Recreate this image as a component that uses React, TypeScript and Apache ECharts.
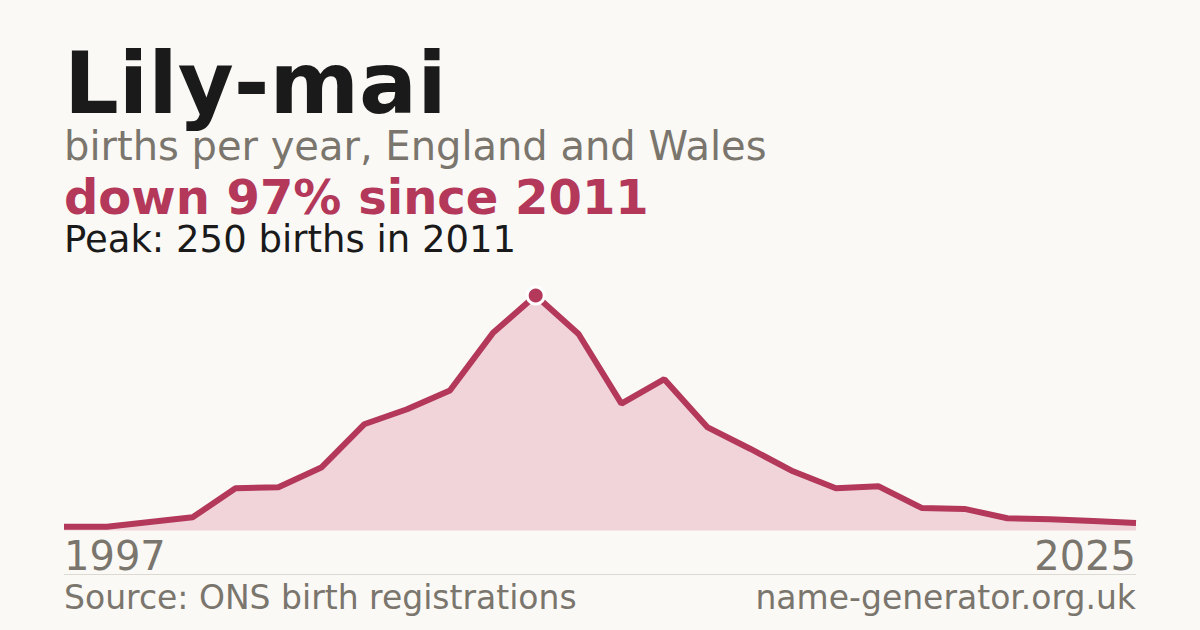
import React, { useEffect, useRef } from "react";
import * as echarts from "echarts";

// years with recorded births (gaps where counts were suppressed)
const years = [
  "1997", "2001", "2002", "2003", "2004", "2005", "2006", "2007", "2008",
  "2009", "2010", "2011", "2012", "2013", "2014", "2015", "2016", "2017",
  "2018", "2019", "2020", "2021", "2022", "2023", "2024", "2025",
];
const births = [
  4, 4, 9, 14, 45, 46, 67, 113, 129, 149, 210, 250, 209, 135, 161, 110, 87,
  63, 45, 47, 24, 23, 13, 12, 10, 8,
];
const peakYear = "2011";

const RED = "#b3385a";
const GREY = "#7a756d";

const App = () => {
  const chartRef = useRef<HTMLDivElement>(null);

  // eslint-disable-next-line consistent-return
  useEffect(() => {
    document.body.style.margin = "0";
    if (chartRef.current) {
      const chart = echarts.init(chartRef.current, undefined, { renderer: "svg" });
      const font = "'DejaVu Sans', sans-serif";
      const last = years.length - 1;
      const options: echarts.EChartsOption = {
        animation: false,
        backgroundColor: "#faf9f5",
        grid: {
          top: 295.5,
          right: 64,
          bottom: 99.5,
          left: 64,
        },
        xAxis: {
          type: "category",
          data: years,
          boundaryGap: false,
          axisLine: { show: false },
          axisTick: { show: false },
          axisLabel: {
            interval: (i: number) => i === 0 || i === last,
            alignMinLabel: "left",
            alignMaxLabel: "right",
            color: GREY,
            fontFamily: font,
            fontSize: 40,
            lineHeight: 40,
            margin: 5,
          },
        },
        yAxis: {
          type: "value",
          min: 0,
          max: 250,
          show: false,
          splitLine: { show: false },
        },
        series: [
          {
            type: "line",
            data: births.map((v, i) =>
              years[i] === peakYear
                ? {
                    value: v,
                    symbol: "circle",
                    symbolSize: 17,
                    itemStyle: { color: RED, borderColor: "#ffffff", borderWidth: 3 },
                  }
                : { value: v, symbol: "none" }
            ),
            showSymbol: true,
            lineStyle: { color: RED, width: 6 },
            areaStyle: { color: "#f0d4da", opacity: 1 },
            itemStyle: { color: RED },
            z: 3,
          },
        ],
        graphic: [
          {
            type: "text",
            x: 64,
            y: 82.9,
            style: {
              text: "Lily-mai",
              fill: "#1a1a1a",
              font: `bold 86px ${font}`,
              lineHeight: 76,
              verticalAlign: "middle",
            },
          },
          {
            type: "text",
            x: 64,
            y: 145.5,
            style: {
              text: "births per year, England and Wales",
              fill: GREY,
              font: `40px ${font}`,
              lineHeight: 36,
              verticalAlign: "middle",
            },
          },
          {
            type: "text",
            x: 64,
            y: 197.4,
            style: {
              text: "down 97% since 2011",
              fill: RED,
              font: `bold 48px ${font}`,
              lineHeight: 42,
              verticalAlign: "middle",
            },
          },
          {
            type: "text",
            x: 64,
            y: 239.9,
            style: {
              text: "Peak: 250 births in 2011",
              fill: "#1a1a1a",
              font: `37px ${font}`,
              lineHeight: 33,
              verticalAlign: "middle",
            },
          },
          {
            type: "line",
            shape: { x1: 64, y1: 574.5, x2: 1136, y2: 574.5 },
            style: { stroke: "#dcd9d2", lineWidth: 1 },
          },
          {
            type: "text",
            x: 64,
            y: 597.9,
            style: {
              text: "Source: ONS birth registrations",
              fill: GREY,
              font: `33px ${font}`,
              lineHeight: 33,
              verticalAlign: "middle",
            },
          },
          {
            type: "text",
            x: 1136,
            y: 597.9,
            style: {
              text: "name-generator.org.uk",
              fill: GREY,
              font: `33px ${font}`,
              lineHeight: 33,
              align: "right",
              verticalAlign: "middle",
            },
          },
        ],
      };
      chart.setOption(options);
      return () => {
        chart.dispose();
      };
    }
  }, []);

  return <div ref={chartRef} style={{ width: "1200px", height: "630px" }} />;
};

export default App;
